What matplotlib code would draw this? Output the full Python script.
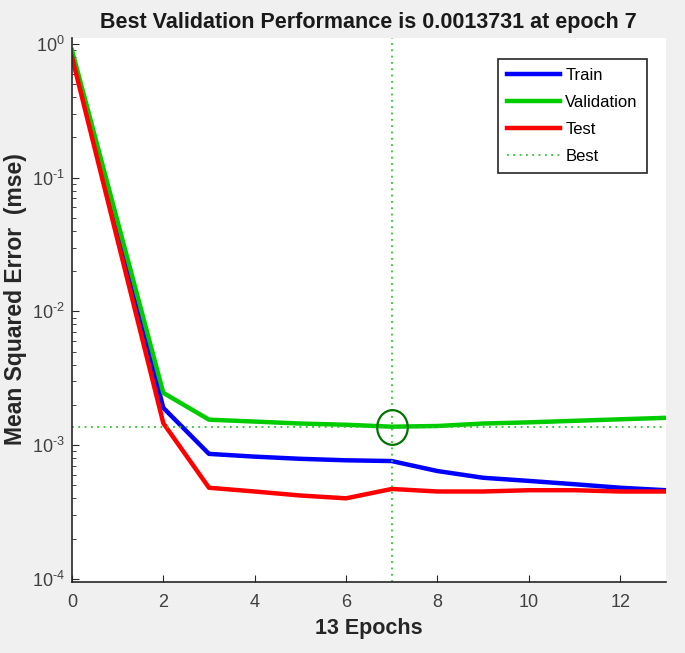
import numpy as np
import matplotlib
matplotlib.use("Agg")
import matplotlib.pyplot as plt
from matplotlib.path import Path
from matplotlib.transforms import Affine2D
from matplotlib.ticker import LogLocator, FuncFormatter

plt.rcParams['font.family'] = ['Liberation Sans', 'DejaVu Sans']
plt.rcParams['mathtext.fontset'] = 'custom'
plt.rcParams['mathtext.rm'] = 'Liberation Sans'
plt.rcParams['mathtext.it'] = 'Liberation Sans'

epochs = [0, 1, 2, 3, 4, 5, 6, 7, 8, 9, 10, 11, 12, 13]
train = [0.85, 0.040, 1.9e-3, 0.86e-3, 0.82e-3, 0.79e-3, 0.77e-3, 0.76e-3,
         0.64e-3, 0.57e-3, 0.54e-3, 0.51e-3, 0.48e-3, 0.46e-3]
validation = [0.90, 0.047, 2.46e-3, 1.55e-3, 1.50e-3, 1.45e-3, 1.42e-3, 1.3731e-3,
              1.39e-3, 1.45e-3, 1.48e-3, 1.52e-3, 1.56e-3, 1.60e-3]
test = [0.80, 0.034, 1.46e-3, 0.48e-3, 0.45e-3, 0.42e-3, 0.40e-3, 0.47e-3,
        0.45e-3, 0.45e-3, 0.46e-3, 0.46e-3, 0.45e-3, 0.45e-3]
best_epoch = 7
best_perf = 0.0013731
title_text = "Best Validation Performance is 0.0013731 at epoch 7"

fig = plt.figure(figsize=(6.85, 6.53), dpi=100, facecolor='#f0f0f0')
ax = fig.add_axes([0.105, 0.109, 0.867, 0.833])
ax.set_facecolor('white')

ax.plot(epochs, train, color=(0, 0, 1), lw=3.2, label='Train', solid_joinstyle='round')
ax.plot(epochs, validation, color=(0, 0.8, 0), lw=3.2, label='Validation', solid_joinstyle='round')
ax.plot(epochs, test, color=(1, 0, 0), lw=3.2, label='Test', solid_joinstyle='round')
ax.axvline(best_epoch, color=(0.2, 0.75, 0.2), ls=(0, (1, 2.5)), lw=1.3, label='Best')
ax.axhline(best_perf, color=(0.2, 0.75, 0.2), ls=(0, (1, 2.5)), lw=1.3)

ell = Path.unit_circle().transformed(Affine2D().scale(0.88, 1.0))
ax.plot([best_epoch], [best_perf], marker=ell, markersize=25, mfc='none',
        mec=(0, 0.45, 0), mew=1.6, ls='none')

ax.set_yscale('log')
ax.set_xlim(0, 13)
ax.set_ylim(9.5e-5, 1.11)
ax.set_xticks([0, 2, 4, 6, 8, 10, 12])
ax.yaxis.set_major_locator(LogLocator(base=10, numticks=10))
ax.yaxis.set_minor_locator(LogLocator(base=10, subs=np.arange(2, 10), numticks=20))


def fmt(v, pos):
    e = int(round(np.log10(v)))
    if e < 0:
        return r'$10^{\text{-}%d}$' % (-e)
    return r'$10^{%d}$' % e


ax.yaxis.set_major_formatter(FuncFormatter(fmt))

for s in ['top', 'right']:
    ax.spines[s].set_visible(False)
for s in ['left', 'bottom']:
    ax.spines[s].set_color('#262626')
    ax.spines[s].set_linewidth(1.2)
ax.tick_params(axis='both', which='both', direction='in', colors='#262626',
               labelcolor='#404040', labelsize=13)
ax.tick_params(which='major', length=5)
ax.tick_params(which='minor', length=3)
ax.tick_params(axis='x', pad=9)
ax.tick_params(axis='y', pad=5)

ax.set_title(title_text, fontsize=15.5, fontweight='bold', color='#1a1a1a', pad=7)
ax.set_xlabel('13 Epochs', fontsize=15.5, fontweight='bold', color='#262626', labelpad=5)
ax.set_ylabel('Mean Squared Error  (mse)', fontsize=16.5, fontweight='bold', color='#262626')
ax.yaxis.set_label_coords(-0.076, 0.52)

leg = ax.legend(loc='upper right', bbox_to_anchor=(0.968, 0.962), borderaxespad=0,
                fontsize=12, frameon=True, fancybox=False, edgecolor='#262626', framealpha=1,
                handlelength=3.2, handletextpad=0.3, labelspacing=0.72, borderpad=0.55)
leg.get_frame().set_linewidth(1.2)

fig.savefig('out.png', dpi=100, facecolor=fig.get_facecolor())
